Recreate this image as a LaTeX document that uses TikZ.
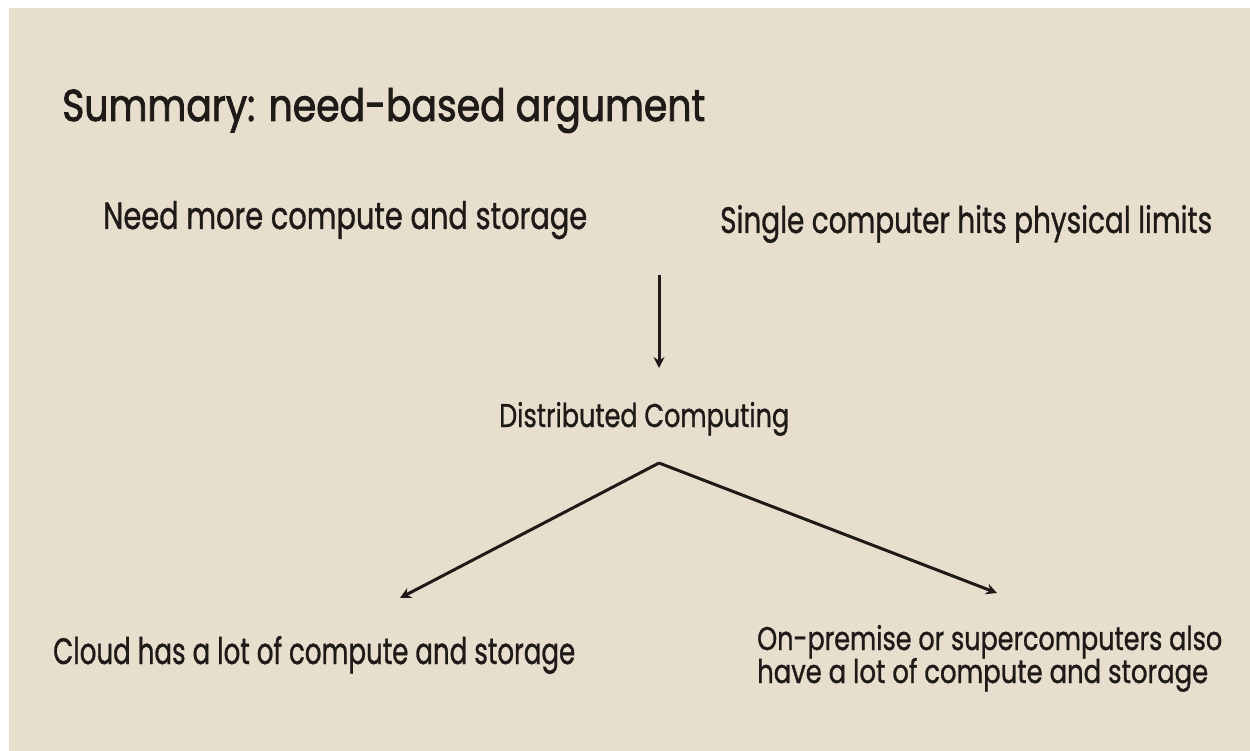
\documentclass[tikz,border=0pt]{standalone}
\usepackage{fontspec}
\setmainfont{Poppins}[FakeBold=1.1]
\newfontfamily\titlefont{Poppins}[FakeBold=2]
\usetikzlibrary{arrows.meta}
\definecolor{bg}{HTML}{E8DECE}
\definecolor{ink}{HTML}{1E1A17}
\newcommand\fitto[3]{\resizebox{#1}{#2}{#3}}
\begin{document}
\begin{tikzpicture}[x=1pt,y=-1pt,
  txt/.style={anchor=base west,inner sep=0pt,text=ink,font=\fontsize{30}{34}\selectfont},
  conn/.style={draw=ink,line width=3pt,-{Stealth[length=11pt,width=11pt]}}]
\useasboundingbox (0,0) rectangle (1250,751);
\fill[white] (0,0) rectangle (1250,751);
\fill[bg] (9,8) rectangle (1250,751);
\node[txt,font=\titlefont\fontsize{40}{44}\selectfont] (title) at (62,121) {\fitto{643pt}{33pt}{Summary: need-based argument}};
\node[txt] (need) at (103,229) {\fitto{484pt}{28pt}{Need more compute and storage}};
\node[txt] (single) at (720,233) {\fitto{492pt}{28pt}{Single computer hits physical limits}};
\node[txt] (dist) at (499,427) {\fitto{290pt}{25pt}{Distributed Computing}};
\coordinate (top) at (659,275);
\coordinate (bot) at (659,368);
\coordinate (apex) at (659,463);
\coordinate (lend) at (400,598);
\coordinate (rend) at (997,593);
\draw[conn] (top) -- (bot);
\draw[conn] (apex) -- (lend);
\draw[conn] (apex) -- (rend);
\node[txt] (cloud) at (53,664) {\fitto{522pt}{28pt}{Cloud has a lot of compute and storage}};
\node[txt] (prem1) at (757,650) {\fitto{465pt}{25pt}{On-premise or supercomputers also}};
\node[txt] (prem2) at (757,683) {\fitto{451pt}{25pt}{have a lot of compute and storage}};
\end{tikzpicture}
\end{document}
